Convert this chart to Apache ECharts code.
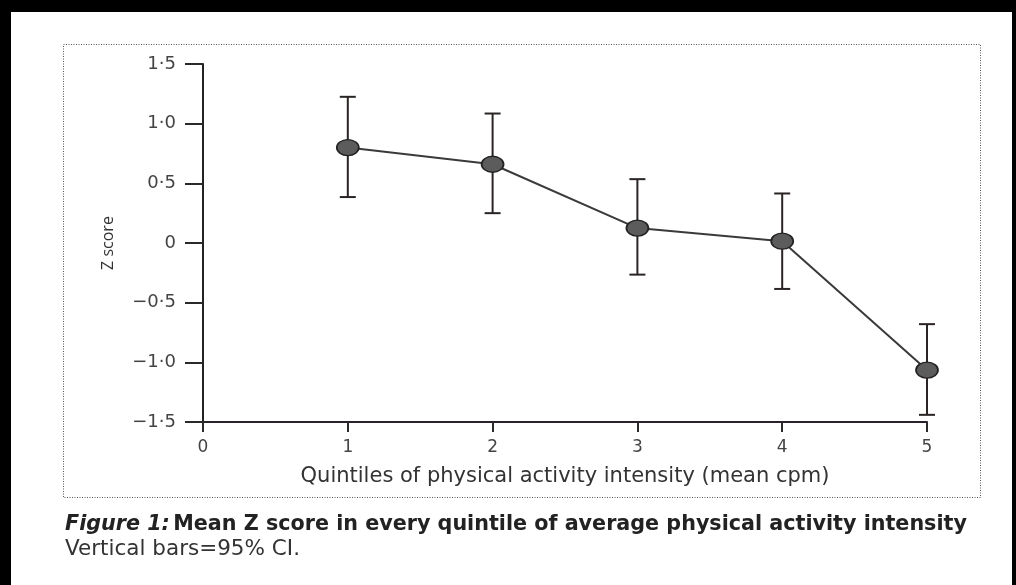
<!DOCTYPE html>
<html>
<head>
<meta charset="utf-8">
<script src="https://cdn.jsdelivr.net/npm/echarts@6/dist/echarts.min.js"></script>
<style>
html,body{margin:0;padding:0;background:#fff;}
#chart{width:1016px;height:585px;}
</style>
</head>
<body>
<div id="chart"></div>
<script>
// Data
var quintiles = [1, 2, 3, 4, 5];
var meanZ = [0.80, 0.66, 0.125, 0.015, -1.065];
var ciLow = [0.385, 0.25, -0.265, -0.385, -1.44];
var ciHigh = [1.225, 1.085, 0.535, 0.415, -0.68];
var yTicks = [-1.5, -1.0, -0.5, 0, 0.5, 1.0, 1.5];
var yTickLabels = ['\u22121\u00b75', '\u22121\u00b70', '\u22120\u00b75', '0', '0\u00b75', '1\u00b70', '1\u00b75'];
var xTickLabels = ['0', '1', '2', '3', '4', '5'];

var chart = echarts.init(document.getElementById('chart'));
var font = 'DejaVu Sans';

var lineData = quintiles.map(function (q, i) { return [q, meanZ[i]]; });
var errData = quintiles.map(function (q, i) { return [q, ciLow[i], ciHigh[i]]; });

var option = {
  backgroundColor: '#fff',
  animation: false,
  grid: { left: 203, right: 89, top: 64, bottom: 163, containLabel: false },
  xAxis: {
    type: 'value', min: 0, max: 5, interval: 1,
    name: 'Quintiles of physical activity intensity (mean cpm)',
    nameLocation: 'middle', nameGap: 44,
    nameTextStyle: { fontFamily: font, fontSize: 21, color: '#333' },
    axisLine: { show: true, onZero: false, lineStyle: { color: '#2a222a', width: 2 } },
    axisTick: { show: true, length: 10, lineStyle: { color: '#2a2a2a', width: 2 } },
    axisLabel: {
      margin: 17, fontFamily: font, fontSize: 17, color: '#444',
      formatter: function (v) { return xTickLabels[Math.round(v)]; }
    },
    splitLine: { show: false }
  },
  yAxis: {
    type: 'value', min: -1.5, max: 1.5, interval: 0.5,
    name: 'Z score', nameLocation: 'middle', nameGap: 87, nameRotate: 90,
    nameTextStyle: { fontFamily: 'Open Sans', fontSize: 16, color: '#333' },
    axisLine: { show: true, onZero: false, lineStyle: { color: '#222', width: 2 } },
    axisTick: { show: true, length: 18, lineStyle: { color: '#2a2a2a', width: 2 } },
    axisLabel: {
      margin: 27, fontFamily: font, fontSize: 18, color: '#444',
      formatter: function (v) {
        for (var i = 0; i < yTicks.length; i++) {
          if (Math.abs(yTicks[i] - v) < 1e-6) return yTickLabels[i];
        }
        return '';
      }
    },
    splitLine: { show: false }
  },
  series: [
    {
      type: 'custom',
      data: errData,
      z: 2,
      renderItem: function (params, api) {
        var x = api.value(0);
        var lo = api.coord([x, api.value(1)]);
        var hi = api.coord([x, api.value(2)]);
        var cw = 8;
        var style = { stroke: '#2a2424', lineWidth: 2 };
        return {
          type: 'group',
          children: [
            { type: 'line', shape: { x1: lo[0], y1: lo[1], x2: hi[0], y2: hi[1] }, style: style },
            { type: 'line', shape: { x1: lo[0] - cw, y1: lo[1], x2: lo[0] + cw, y2: lo[1] }, style: style },
            { type: 'line', shape: { x1: hi[0] - cw, y1: hi[1], x2: hi[0] + cw, y2: hi[1] }, style: style }
          ]
        };
      }
    },
    {
      type: 'line',
      data: lineData,
      z: 3,
      symbol: 'circle',
      symbolSize: [22, 16],
      lineStyle: { color: '#3a3a3a', width: 2 },
      itemStyle: { color: '#5c5c5c', borderColor: '#222', borderWidth: 1.5 }
    }
  ],
  graphic: [
    { type: 'rect', shape: { x: 0, y: 0, width: 1016, height: 12 }, style: { fill: '#000' } },
    { type: 'rect', shape: { x: 0, y: 0, width: 11, height: 585 }, style: { fill: '#000' } },
    { type: 'rect', shape: { x: 1012, y: 0, width: 4, height: 585 }, style: { fill: '#000' } },
    { type: 'rect', shape: { x: 63.5, y: 44.5, width: 917, height: 453 },
      style: { fill: 'none', stroke: '#555', lineWidth: 1, lineDash: [1, 1.5] } },
    {
      type: 'text', left: 65, top: 514,
      style: {
        text: '{i|Figure 1:} {b|Mean Z score in every quintile of average physical activity intensity}',
        rich: {
          i: { fontFamily: font, fontSize: 20.7, fontWeight: 'bold', fontStyle: 'italic', fill: '#222' },
          b: { fontFamily: font, fontSize: 20.7, fontWeight: 'bold', fill: '#222' }
        }
      }
    },
    {
      type: 'text', left: 65, top: 538,
      style: { text: 'Vertical bars=95% CI.', fontFamily: font, fontSize: 21.5, fill: '#333' }
    }
  ]
};
chart.setOption(option);
</script>
</body>
</html>
